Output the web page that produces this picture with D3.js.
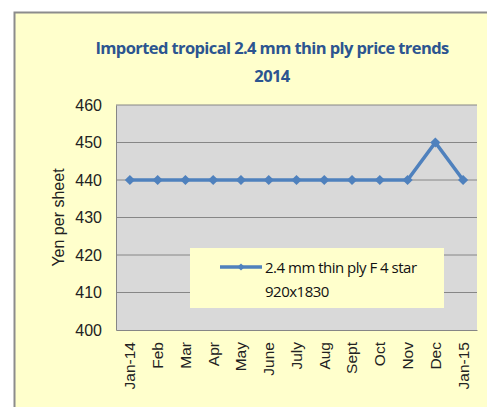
<!DOCTYPE html>
<html>
<head>
<meta charset="utf-8">
<script src="https://cdn.jsdelivr.net/npm/d3@7"></script>
<style>
  body { margin: 0; background: #fff; }
  svg { display: block; }
</style>
</head>
<body>
<div id="chart"></div>
<script>
const months = ["Jan-14", "Feb", "Mar", "Apr", "May", "June", "July", "Aug", "Sept", "Oct", "Nov", "Dec", "Jan-15"];
const prices = [440, 440, 440, 440, 440, 440, 440, 440, 440, 440, 440, 450, 440];
const yTicks = [400, 410, 420, 430, 440, 450, 460];
const titleLines = ["Imported tropical 2.4 mm thin ply price trends", "2014"];
const legendLines = ["2.4 mm thin ply F 4 star", "920x1830"];

const W = 487, H = 407;
const margin = {top: 105, right: 10, bottom: 77, left: 116};
const width = W - margin.left - margin.right;
const height = H - margin.top - margin.bottom;

const svg = d3.select("#chart").append("svg")
  .attr("width", W)
  .attr("height", H);

// outer chart box
svg.append("rect")
  .attr("x", 14.5).attr("y", 12.5)
  .attr("width", W).attr("height", H)
  .attr("fill", "#FFFFCC")
  .attr("stroke", "#8c8c8c")
  .attr("stroke-width", 2);

svg.selectAll("text.title")
  .data(titleLines)
  .enter().append("text")
  .attr("class", "title")
  .attr("x", 272)
  .attr("y", (d, i) => 54 + i * 28)
  .attr("text-anchor", "middle")
  .attr("font-family", "'Open Sans', sans-serif")
  .attr("font-weight", "bold")
  .attr("font-size", 16.5)
  .attr("letter-spacing", -0.6)
  .attr("fill", "#2C5590")
  .text(d => d);

const g = svg.append("g")
  .attr("transform", "translate(" + margin.left + "," + margin.top + ")");

const x = d3.scaleBand()
  .domain(months)
  .range([0, width]);

const y = d3.scaleLinear()
  .domain([400, 460])
  .range([height, 0]);

g.append("rect")
  .attr("width", width)
  .attr("height", height)
  .attr("fill", "#D9D9D9");

g.selectAll("line.grid")
  .data(yTicks.slice(1))
  .enter().append("line")
  .attr("class", "grid")
  .attr("x1", 0).attr("x2", width)
  .attr("y1", d => y(d)).attr("y2", d => y(d))
  .attr("stroke", "#868686")
  .attr("stroke-width", 1);

const yAxis = d3.axisLeft(y).tickValues(yTicks).tickSize(0).tickPadding(14);
const ya = g.append("g").call(yAxis);
ya.select(".domain").attr("stroke", "#868686");
ya.selectAll("text")
  .attr("font-family", "'Liberation Sans', Arial, sans-serif")
  .attr("font-size", 16)
  .attr("fill", "#222");

const xAxis = d3.axisBottom(x).tickSize(0).tickPadding(8);
const xa = g.append("g")
  .attr("transform", "translate(0," + height + ")")
  .call(xAxis);
xa.select(".domain").attr("stroke", "#868686");
xa.selectAll("text")
  .attr("font-family", "'Liberation Sans', Arial, sans-serif")
  .attr("font-size", 15.5)
  .attr("fill", "#222")
  .attr("transform", "rotate(-90)")
  .attr("text-anchor", "end")
  .attr("x", -12)
  .attr("y", 0)
  .attr("dy", "0.35em");

svg.append("text")
  .attr("transform", "translate(64," + (margin.top + height / 2) + ") rotate(-90)")
  .attr("text-anchor", "middle")
  .attr("font-family", "'Liberation Sans', Arial, sans-serif")
  .attr("font-size", 16)
  .attr("fill", "#222")
  .text("Yen per sheet");

const line = d3.line()
  .x((d, i) => x(months[i]) + x.bandwidth() / 2)
  .y(d => y(d));

g.append("path")
  .datum(prices)
  .attr("fill", "none")
  .attr("stroke", "#4F81BD")
  .attr("stroke-width", 3.5)
  .attr("d", line);

const diamond = d3.symbol().type(d3.symbolSquare).size(52);
g.selectAll("path.marker")
  .data(prices)
  .enter().append("path")
  .attr("class", "marker")
  .attr("d", diamond)
  .attr("transform", (d, i) => "translate(" + (x(months[i]) + x.bandwidth() / 2) + "," + y(d) + ") rotate(45)")
  .attr("fill", "#4F81BD");

// legend
const lg = svg.append("g").attr("transform", "translate(190,248)");
lg.append("rect")
  .attr("width", 254).attr("height", 60)
  .attr("fill", "#FFFFCC");
lg.append("line")
  .attr("x1", 30).attr("x2", 72)
  .attr("y1", 19).attr("y2", 19)
  .attr("stroke", "#4F81BD").attr("stroke-width", 3.5);
lg.append("path")
  .attr("d", d3.symbol().type(d3.symbolSquare).size(26))
  .attr("transform", "translate(51,19) rotate(45)")
  .attr("fill", "#4F81BD");
lg.selectAll("text")
  .data(legendLines)
  .enter().append("text")
  .attr("x", 75)
  .attr("y", (d, i) => 25 + i * 24)
  .attr("font-family", "'Open Sans', sans-serif")
  .attr("font-size", 15)
  .attr("letter-spacing", -0.5)
  .attr("fill", "#111")
  .text(d => d);
</script>
</body>
</html>
